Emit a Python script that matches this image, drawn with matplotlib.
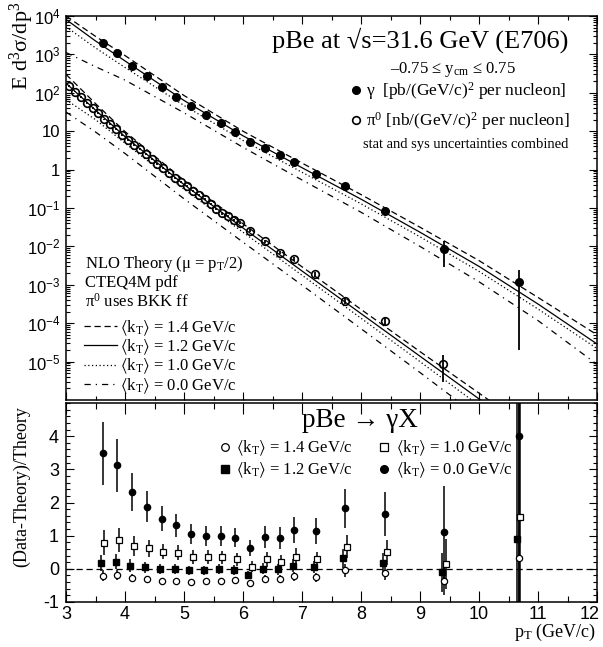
import matplotlib
matplotlib.use("Agg")
from matplotlib import pyplot as plt
from matplotlib.lines import Line2D
from matplotlib.ticker import FixedLocator, MultipleLocator, NullFormatter, LogLocator
from matplotlib.transforms import ScaledTranslation
import numpy as np

plt.rcParams['font.family'] = ['Liberation Serif', 'DejaVu Serif']
plt.rcParams['mathtext.fontset'] = 'stix'
plt.rcParams['mathtext.default'] = 'regular'
plt.rcParams['axes.unicode_minus'] = False

# theory curves (NLO, different <kT>)
pt_grid = [3.0, 3.5, 4.0, 5.0, 6.0, 7.0, 8.0, 9.0, 10.0, 11.0, 12.0]
gamma_kt14 = [1.0e4, 2950, 933, 85.1, 10.0, 1.48, 0.224, 0.0316, 4.27e-3, 4.68e-4, 5.0e-5]
gamma_kt12 = [8130, 2240, 676, 63.1, 7.59, 1.12, 0.170, 0.0234, 3.02e-3, 3.16e-4, 2.88e-5]
gamma_kt10 = [5250, 1480, 457, 46.8, 5.75, 0.851, 0.129, 0.0178, 2.24e-3, 2.34e-4, 2.19e-5]
gamma_kt00 = [1120, 479, 214, 30.2, 3.80, 0.537, 0.0776, 0.0100, 1.20e-3, 1.17e-4, 8.5e-6]
pi0_kt14 = [302, 52.5, 9.77, 0.525, 0.0389, 2.95e-3, 2.29e-4, 1.82e-5, 1.51e-6, 1.23e-7, 1.0e-8]
pi0_kt12 = [178, 35.5, 7.24, 0.407, 0.0302, 2.29e-3, 1.78e-4, 1.38e-5, 1.07e-6, 8.3e-8, 6.5e-9]
pi0_kt10 = [66.1, 20.0, 4.90, 0.309, 0.0234, 1.78e-3, 1.35e-4, 1.0e-5, 7.2e-7, 5.2e-8, 3.9e-9]
pi0_kt00 = [31.6, 9.55, 2.63, 0.174, 0.0129, 9.8e-4, 7.2e-5, 5.2e-6, 3.6e-7, 2.5e-8, 1.8e-9]

# direct photon data
gamma_pt = [3.62, 3.87, 4.12, 4.37, 4.62, 4.87, 5.12, 5.37, 5.62, 5.87,
            6.12, 6.37, 6.62, 6.87, 7.23, 7.73, 8.41, 9.41, 10.67]
gamma_xs = [1950, 1110, 513, 269, 141, 79.4, 44.7, 26.3, 16.0, 9.77,
            5.13, 3.72, 2.34, 1.61, 0.767, 0.380, 0.0851, 8.51e-3, 1.17e-3]
gamma_err_lo = [390, 210, 90, 43, 21, 12, 6.7, 3.9, 2.4, 1.5,
                0.77, 0.63, 0.40, 0.29, 0.14, 0.080, 0.021, 5.56e-3, 1.15e-3]
gamma_err_hi = [390, 210, 90, 43, 21, 12, 6.7, 3.9, 2.4, 1.5,
                0.77, 0.63, 0.40, 0.29, 0.14, 0.080, 0.021, 5.6e-3, 1.23e-3]

# pi0 data
pi0_pt = [3.05, 3.15, 3.25, 3.35, 3.45, 3.55, 3.65, 3.75, 3.85, 3.95,
          4.05, 4.15, 4.25, 4.35, 4.45, 4.55, 4.65, 4.75, 4.85, 4.95,
          5.05, 5.15, 5.25, 5.35, 5.45, 5.55, 5.65, 5.75, 5.85, 5.95,
          6.12, 6.37, 6.62, 6.87, 7.22, 7.73, 8.41, 9.39]
pi0_xs = [151, 107, 79.4, 53.7, 39.8, 29.5, 20.4, 15.1, 11.2, 7.94,
          5.89, 4.47, 3.39, 2.51, 1.91, 1.41, 1.10, 0.813, 0.617, 0.484,
          0.372, 0.282, 0.219, 0.170, 0.126, 0.0933, 0.0724, 0.0617, 0.0490, 0.0417,
          0.0257, 0.0138, 6.92e-3, 4.79e-3, 1.86e-3, 3.89e-4, 1.15e-4, 8.9e-6]
pi0_err = [8, 5, 4, 2.7, 2, 1.5, 1, 0.8, 0.6, 0.4,
           0.3, 0.23, 0.18, 0.13, 0.1, 0.08, 0.06, 0.045, 0.035, 0.028,
           0.022, 0.017, 0.014, 0.011, 0.0085, 0.0066, 0.0052, 0.0046, 0.0038, 0.0033,
           0.0022, 0.0013, 7.5e-4, 5.6e-4, 2.5e-4, 6.5e-5, 2.3e-5, 6.0e-6]

# (Data-Theory)/Theory for photons
ratio_kt14 = [-0.21, -0.19, -0.29, -0.32, -0.37, -0.37, -0.40, -0.38, -0.36, -0.35,
              -0.43, -0.30, -0.31, -0.23, -0.25, -0.04, -0.13, -0.37, 0.32]
ratio_kt12 = [0.17, 0.22, 0.10, 0.05, 0.0, 0.0, -0.05, -0.05, -0.01, -0.03,
              -0.18, 0.0, -0.01, 0.09, 0.05, 0.32, 0.19, -0.11, 0.89]
ratio_kt10 = [0.79, 0.87, 0.69, 0.62, 0.52, 0.49, 0.37, 0.37, 0.35, 0.29,
              0.07, 0.29, 0.22, 0.37, 0.29, 0.67, 0.50, 0.15, 1.57]
ratio_kt00 = [3.49, 3.12, 2.32, 1.87, 1.51, 1.31, 1.05, 1.00, 0.99, 0.94,
              0.62, 0.97, 0.94, 1.17, 1.14, 1.82, 1.65, 1.11, 4.02]
ratio_err14 = [0.17, 0.15, 0.12, 0.11, 0.095, 0.095, 0.09, 0.093, 0.096, 0.098,
               0.086, 0.12, 0.12, 0.14, 0.135, 0.20, 0.22, 0.42, 6.0]
ratio_err12 = [0.25, 0.23, 0.19, 0.17, 0.15, 0.15, 0.14, 0.14, 0.15, 0.145,
               0.12, 0.17, 0.17, 0.20, 0.19, 0.28, 0.30, 0.59, 6.0]
ratio_err10 = [0.38, 0.36, 0.30, 0.26, 0.23, 0.22, 0.21, 0.21, 0.20, 0.19,
               0.16, 0.22, 0.21, 0.25, 0.23, 0.35, 0.38, 0.76, 6.0]
ratio_err00 = [0.95, 0.80, 0.58, 0.47, 0.38, 0.35, 0.31, 0.30, 0.30, 0.29,
               0.24, 0.33, 0.33, 0.39, 0.38, 0.59, 0.66, 1.39, 6.0]

kt_labels = [r'$\langle$k$_T\rangle$ = 1.4 GeV/c', r'$\langle$k$_T\rangle$ = 1.2 GeV/c',
             r'$\langle$k$_T\rangle$ = 1.0 GeV/c', r'$\langle$k$_T\rangle$ = 0.0 GeV/c']

W, H = 603, 647


def fx(x):
    return x / W


def fy(y):
    return 1 - y / H


fig = plt.figure(figsize=(W / 100, H / 100), dpi=100)
ax1 = fig.add_axes([fx(66), fy(400), 531 / W, 384 / H])
ax2 = fig.add_axes([fx(66), fy(602), 531 / W, 199 / H])

styles = [(0, (5, 3)), '-', (0, (1, 2)), (0, (5, 4, 1, 4))]
lw = 0.9

# ---- top panel
curve_handles = []
for ys, st in zip([gamma_kt14, gamma_kt12, gamma_kt10, gamma_kt00], styles):
    h, = ax1.plot(pt_grid, ys, color='black', lw=lw, linestyle=st)
    curve_handles.append(h)
for ys, st in zip([pi0_kt14, pi0_kt12, pi0_kt10, pi0_kt00], styles):
    ax1.plot(pt_grid, ys, color='black', lw=lw, linestyle=st)

ax1.errorbar(gamma_pt, gamma_xs, yerr=[gamma_err_lo, gamma_err_hi], fmt='o', color='black',
             ms=5.5, elinewidth=1.3, capsize=0, zorder=5)
ax1.errorbar(pi0_pt, pi0_xs, yerr=pi0_err, fmt='o', color='black', mfc='none', mew=1.2,
             ms=5.5, elinewidth=1.3, capsize=0, zorder=5)

ax1.set_yscale('log')
ax1.set_xlim(3, 12)
ax1.set_ylim(1e-6, 1e4)
dec = [1e-5, 1e-4, 1e-3, 1e-2, 1e-1, 1, 10, 1e2, 1e3, 1e4]
dec_labels = ['$10^{-5}$', '$10^{-4}$', '$10^{-3}$', '$10^{-2}$', '$10^{-1}$',
              '1', '10', '$10^{2}$', '$10^{3}$', '$10^{4}$']
ax1.yaxis.set_major_locator(FixedLocator(dec))
ax1.set_yticklabels(dec_labels, fontfamily='Liberation Sans', fontsize=12)
ax1.yaxis.set_minor_locator(LogLocator(base=10, subs=np.arange(2, 10), numticks=20))
ax1.yaxis.set_minor_formatter(NullFormatter())
ax1.xaxis.set_major_locator(MultipleLocator(1))
ax1.xaxis.set_minor_locator(MultipleLocator(0.5))
ax1.tick_params(axis='x', labelbottom=False)
ax1.tick_params(which='both', direction='in', top=True, right=True, width=0.8, pad=4)
ax1.tick_params(which='major', length=6)
ax1.tick_params(which='minor', length=3)

proxy_g = Line2D([], [], marker='o', ls='none', color='black', ms=5.5)
proxy_p = Line2D([], [], marker='o', ls='none', color='black', mfc='none', mew=1.2, ms=5.5)
leg1 = ax1.legend([proxy_g, proxy_p],
                  [r'γ  [pb/(GeV/c)$^2$ per nucleon]', r'π$^0$ [nb/(GeV/c)$^2$ per nucleon]'],
                  loc='upper right', bbox_to_anchor=((570 - 66) / 531, (400 - 80) / 384),
                  frameon=False, fontsize=12.5, handlelength=0.5, handletextpad=0.35,
                  labelspacing=0.5, borderpad=0, borderaxespad=0)
ax1.add_artist(leg1)
ax1.legend(curve_handles, kt_labels, loc='upper left',
           bbox_to_anchor=((84 - 66) / 531, (400 - 318) / 384),
           frameon=False, fontsize=12, handlelength=1.95, handletextpad=0.2,
           labelspacing=0.0, borderpad=0, borderaxespad=0)

fig.text(fx(568), fy(48), 'pBe at √s=31.6 GeV (E706)', ha='right', va='baseline', fontsize=19)
fig.text(fx(453), fy(73), r'–0.75 ≤ y$_{cm}$ ≤ 0.75', ha='center', va='baseline', fontsize=12)
fig.text(fx(568), fy(148), 'stat and sys uncertainties combined', ha='right', va='baseline',
         fontsize=10.5)
fig.text(fx(85), fy(268), r'NLO Theory (μ = p$_T$/2)', ha='left', va='baseline', fontsize=12)
fig.text(fx(85), fy(287), 'CTEQ4M pdf', ha='left', va='baseline', fontsize=12)
fig.text(fx(85), fy(307), r'π$^0$ uses BKK ff', ha='left', va='baseline', fontsize=12)
fig.text(fx(22), fy(2), r'E d$^3$σ/dp$^3$', rotation=90, ha='center', va='top', fontsize=16)

# ---- bottom panel
x_pt = np.array(gamma_pt)
ax2.axhline(0, color='black', lw=0.9, linestyle=(0, (5, 3)))
ax2.errorbar(x_pt, ratio_kt14, yerr=ratio_err14, fmt='o', color='black', mfc='white',
             ms=4.5, mew=0.9, elinewidth=1.1, capsize=0, zorder=4)
ax2.errorbar(x_pt - 0.03, ratio_kt12, yerr=ratio_err12, fmt='s', color='black',
             ms=4.5, elinewidth=1.1, capsize=0, zorder=4)
ax2.errorbar(x_pt + 0.03, ratio_kt10, yerr=ratio_err10, fmt='s', color='black', mfc='white',
             ms=5, mew=0.9, elinewidth=1.1, capsize=0, zorder=4)
ax2.errorbar(x_pt, ratio_kt00, yerr=ratio_err00, fmt='o', color='black',
             ms=4.5, elinewidth=1.1, capsize=0, zorder=4)

ax2.set_xlim(3, 12)
ax2.set_ylim(-1, 5)
ax2.xaxis.set_major_locator(MultipleLocator(1))
ax2.xaxis.set_minor_locator(MultipleLocator(0.5))
ax2.yaxis.set_major_locator(FixedLocator([-1, 0, 1, 2, 3, 4]))
ax2.yaxis.set_minor_locator(MultipleLocator(0.2))
ax2.set_yticklabels(['-1', '0', '1', '2', '3', '4'], fontfamily='Liberation Sans', fontsize=13)
ax2.set_xticks(range(3, 13))
ax2.set_xticklabels([str(v) for v in range(3, 13)], fontfamily='Liberation Sans', fontsize=13)
ax2.tick_params(which='both', direction='in', top=True, right=True, width=0.8)
ax2.tick_params(axis='x', which='major', length=8, pad=3)
ax2.tick_params(axis='x', which='minor', length=4.5)
ax2.tick_params(axis='y', which='major', length=6, pad=5)
ax2.tick_params(axis='y', which='minor', length=3)

# keep the last x label inside the canvas
last = ax2.get_xticklabels()[-1]
last.set_transform(last.get_transform() + ScaledTranslation(-0.07, 0, fig.dpi_scale_trans))

leg_handles = [Line2D([], [], marker='o', ls='none', color='black', mfc='white', ms=5.5, mew=0.9),
               Line2D([], [], marker='s', ls='none', color='black', ms=5.5),
               Line2D([], [], marker='s', ls='none', color='black', mfc='white', ms=6, mew=0.9),
               Line2D([], [], marker='o', ls='none', color='black', ms=5.5)]
ax2.legend(leg_handles, kt_labels, ncol=2, loc='upper left',
           bbox_to_anchor=((219 - 66) / 531, (602 - 439) / 199),
           frameon=False, fontsize=12, handlelength=0.7, handletextpad=0.35,
           labelspacing=0.15, columnspacing=1.5, borderpad=0, borderaxespad=0)

fig.text(fx(302), fy(427), 'pBe → γX', ha='left', va='baseline', fontsize=19.5)
fig.text(fx(22), fy(487), '(Data-Theory)/Theory', rotation=90, ha='center', va='center',
         fontsize=13)
fig.text(fx(596), fy(637), r'p$_T$ (GeV/c)', ha='right', va='baseline', fontsize=13)

for ax in (ax1, ax2):
    for sp in ax.spines.values():
        sp.set_linewidth(1.1)

fig.savefig('out.png', dpi=100)
